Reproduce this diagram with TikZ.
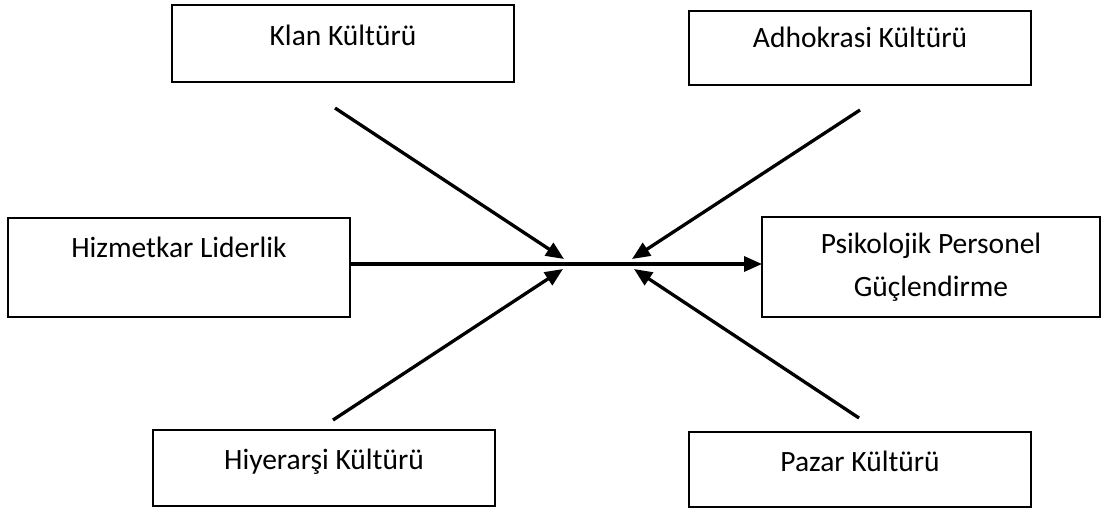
\documentclass[tikz,border=0pt]{standalone}
\usepackage{fontspec}
\setmainfont{Carlito}
\usetikzlibrary{arrows.meta}
\begin{document}
\begin{tikzpicture}[x=1pt,y=-1pt,
  box/.style={draw, line width=2.5pt, inner sep=0pt, outer sep=0pt,
    anchor=north west, minimum width=342pt, align=center,
    font=\fontsize{29.5}{43}\selectfont},
  link/.style={line width=3.3pt, -{Triangle[length=18pt,width=15pt]}}]
  \useasboundingbox (0,0) rectangle (1102,509);
  % boxes
  \node[box, text height=40pt, text depth=37pt] (klan) at (172,5) {Klan Kültürü};
  \node[box, text height=36pt, text depth=38pt] (adho) at (689,11) {Adhokrasi Kültürü};
  \node[box, text height=39pt, text depth=60pt] (hiz) at (8,218) {Hizmetkar Liderlik};
  \node[box, minimum width=338pt, minimum height=100pt] (psi) at (762,217)
    {Psikolojik Personel\\Güçlendirme};
  \node[box, text height=39pt, text depth=37pt] (hiy) at (153,430) {Hiyerarşi Kültürü};
  \node[box, text height=39pt, text depth=36pt] (pazar) at (689,432) {Pazar Kültürü};
  % free ends and tips of the converging arrows
  \coordinate (klanS) at (335,108);
  \coordinate (adhoS) at (860,110);
  \coordinate (hiyS) at (333,420);
  \coordinate (pazarS) at (859,418);
  \coordinate (tipKL) at (564,259);
  \coordinate (tipAD) at (632,259);
  \coordinate (tipHI) at (563,269);
  \coordinate (tipPA) at (634,269);
  \coordinate (mid) at (0,264);
  % connectors
  \draw[link] (klanS) -- (tipKL);
  \draw[link] (adhoS) -- (tipAD);
  \draw[link] (hiyS) -- (tipHI);
  \draw[link] (pazarS) -- (tipPA);
  \draw[link] (hiz.east |- mid) -- (psi.west |- mid);
\end{tikzpicture}
\end{document}
